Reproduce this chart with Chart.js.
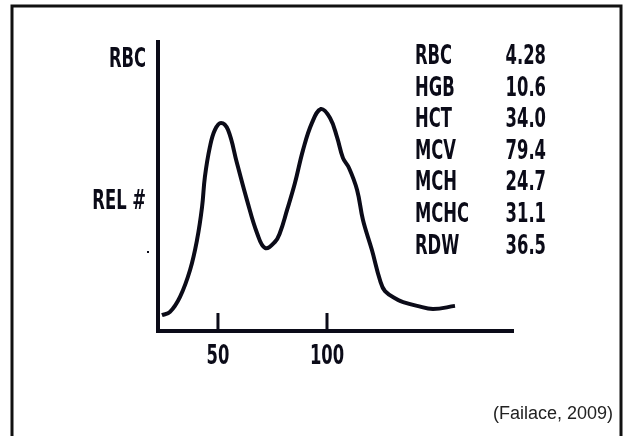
<!DOCTYPE html>
<html>
<head>
<meta charset="utf-8">
<script src="https://cdn.jsdelivr.net/npm/chart.js@4.4.0/dist/chart.umd.min.js"></script>
<style>
  html, body { margin: 0; padding: 0; background: #fff; }
  #wrap { width: 623px; height: 436px; }
</style>
</head>
<body>
<div id="wrap"><canvas id="rbcChart" width="623" height="436"></canvas></div>
<script>
// RBC volume histogram
const cellVolume = [24.3, 28.0, 32.6, 37.2, 40.4, 42.7, 44.0, 46.3, 48.6, 51.4, 54.6, 58.7, 63.3, 67.9, 71.6, 76.1,
  78.4, 81.7, 85.3, 89.0, 93.1, 97.2, 101.4, 104.6, 107.3, 110.1, 113.8, 116.5, 120.6, 124.3, 126.6, 132.6,
  134.9, 141.3, 148.6, 158.7];
const relCount = [5.5, 6.6, 11.8, 21.1, 31.5, 42.9, 53.3, 63.7, 69.6, 72.0, 69.6, 58.1, 45.3, 33.9, 28.7, 30.8,
  33.9, 41.9, 51.2, 62.6, 72.0, 76.8, 73.7, 67.1, 59.9, 56.4, 48.8, 38.4, 28.0, 17.6, 13.8, 10.7,
  10.0, 8.7, 7.6, 8.7];
const xTicks = [50, 100];
const yLabelValues = [94.5, 45.3];
const yLabels = ['RBC', 'REL #'];
const indexNames = ['RBC', 'HGB', 'HCT', 'MCV', 'MCH', 'MCHC', 'RDW'];
const indexValues = ['4.28', '10.6', '34.0', '79.4', '24.7', '31.1', '36.5'];
const sourceNote = '(Failace, 2009)';

const ink = '#0b0b18';
const condFont = 'bold 26px "Liberation Sans Narrow", "DejaVu Sans Condensed", sans-serif';
const squeeze = 0.7;

function squeezeText(ctx, text, x, y, align) {
  ctx.save();
  ctx.translate(x, y);
  ctx.scale(squeeze, 1);
  ctx.textAlign = align;
  ctx.fillText(text, 0, 0);
  ctx.restore();
}

const decorations = {
  id: 'decorations',
  afterDraw(chart) {
    const ctx = chart.ctx;
    const xs = chart.scales.x, ys = chart.scales.y;
    const area = chart.chartArea;
    ctx.save();

    // outer frame
    ctx.strokeStyle = '#111';
    ctx.lineWidth = 3;
    ctx.strokeRect(12, 6, 609, 460);

    // tick marks standing up from the x axis
    ctx.strokeStyle = ink;
    ctx.lineWidth = 3;
    xTicks.forEach(v => {
      const px = xs.getPixelForValue(v);
      ctx.beginPath();
      ctx.moveTo(px, area.bottom);
      ctx.lineTo(px, area.bottom - 18);
      ctx.stroke();
    });

    ctx.fillStyle = ink;
    ctx.font = condFont;
    ctx.textBaseline = 'alphabetic';
    xTicks.forEach(v => {
      squeezeText(ctx, String(v), xs.getPixelForValue(v), area.bottom + 33, 'center');
    });
    yLabels.forEach((lab, i) => {
      squeezeText(ctx, lab, area.left - 12, ys.getPixelForValue(yLabelValues[i]) + 9, 'right');
    });

    // small stray dot left of the axis, as in the scan
    ctx.fillRect(area.left - 11, 251, 2, 2);

    // index table
    indexNames.forEach((name, i) => {
      const y = 64 + i * 31.6;
      squeezeText(ctx, name, 415, y, 'left');
      squeezeText(ctx, indexValues[i], 546, y, 'right');
    });

    ctx.font = '18px "Liberation Sans", Arial, sans-serif';
    ctx.fillStyle = '#222';
    ctx.textAlign = 'right';
    ctx.fillText(sourceNote, 613, 419);
    ctx.restore();
  }
};

new Chart(document.getElementById('rbcChart'), {
  type: 'line',
  data: {
    datasets: [{
      data: cellVolume.map((v, i) => ({ x: v, y: relCount[i] })),
      borderColor: ink,
      borderWidth: 4,
      pointRadius: 0,
      tension: 0.4,
      fill: false
    }]
  },
  options: {
    responsive: false,
    animation: false,
    layout: { padding: { top: 42, right: 110, left: 0, bottom: 0 } },
    plugins: { legend: { display: false }, tooltip: { enabled: false } },
    scales: {
      x: {
        type: 'linear',
        min: 22.5,
        max: 185.3,
        grid: { display: false },
        border: { display: true, color: ink, width: 4 },
        ticks: { display: false },
        afterFit(s) { s.height = 105; }
      },
      y: {
        min: 0,
        max: 100,
        grid: { display: false },
        border: { display: true, color: ink, width: 4 },
        ticks: { display: false },
        afterFit(s) { s.width = 158; }
      }
    }
  },
  plugins: [decorations]
});
</script>
</body>
</html>
